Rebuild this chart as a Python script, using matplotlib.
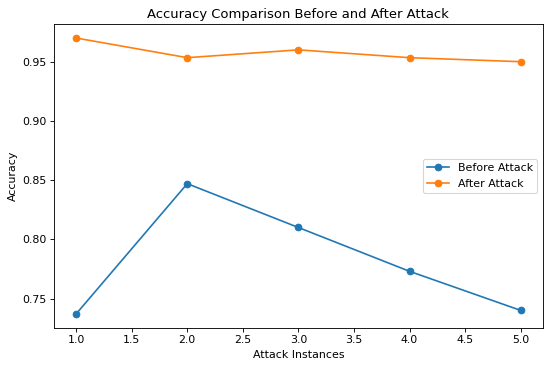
import matplotlib
matplotlib.use('Agg')
import matplotlib.pyplot as plt

# Values
attack_instances = [1, 2, 3, 4, 5]
before_attack = [0.737, 0.847, 0.810, 0.773, 0.740]
after_attack = [0.970, 0.9534, 0.960, 0.9534, 0.950]

scale = 0.79
plt.figure(figsize=(5.5 / scale, 3.67 / scale), dpi=100 * scale)
plt.plot(attack_instances, before_attack, marker='o', label='Before Attack')
plt.plot(attack_instances, after_attack, marker='o', label='After Attack')
plt.title('Accuracy Comparison Before and After Attack')
plt.xlabel('Attack Instances')
plt.ylabel('Accuracy')
plt.legend(loc='center right')
plt.subplots_adjust(left=0.098, right=0.987, top=0.934, bottom=0.107)
plt.savefig('out.png')
